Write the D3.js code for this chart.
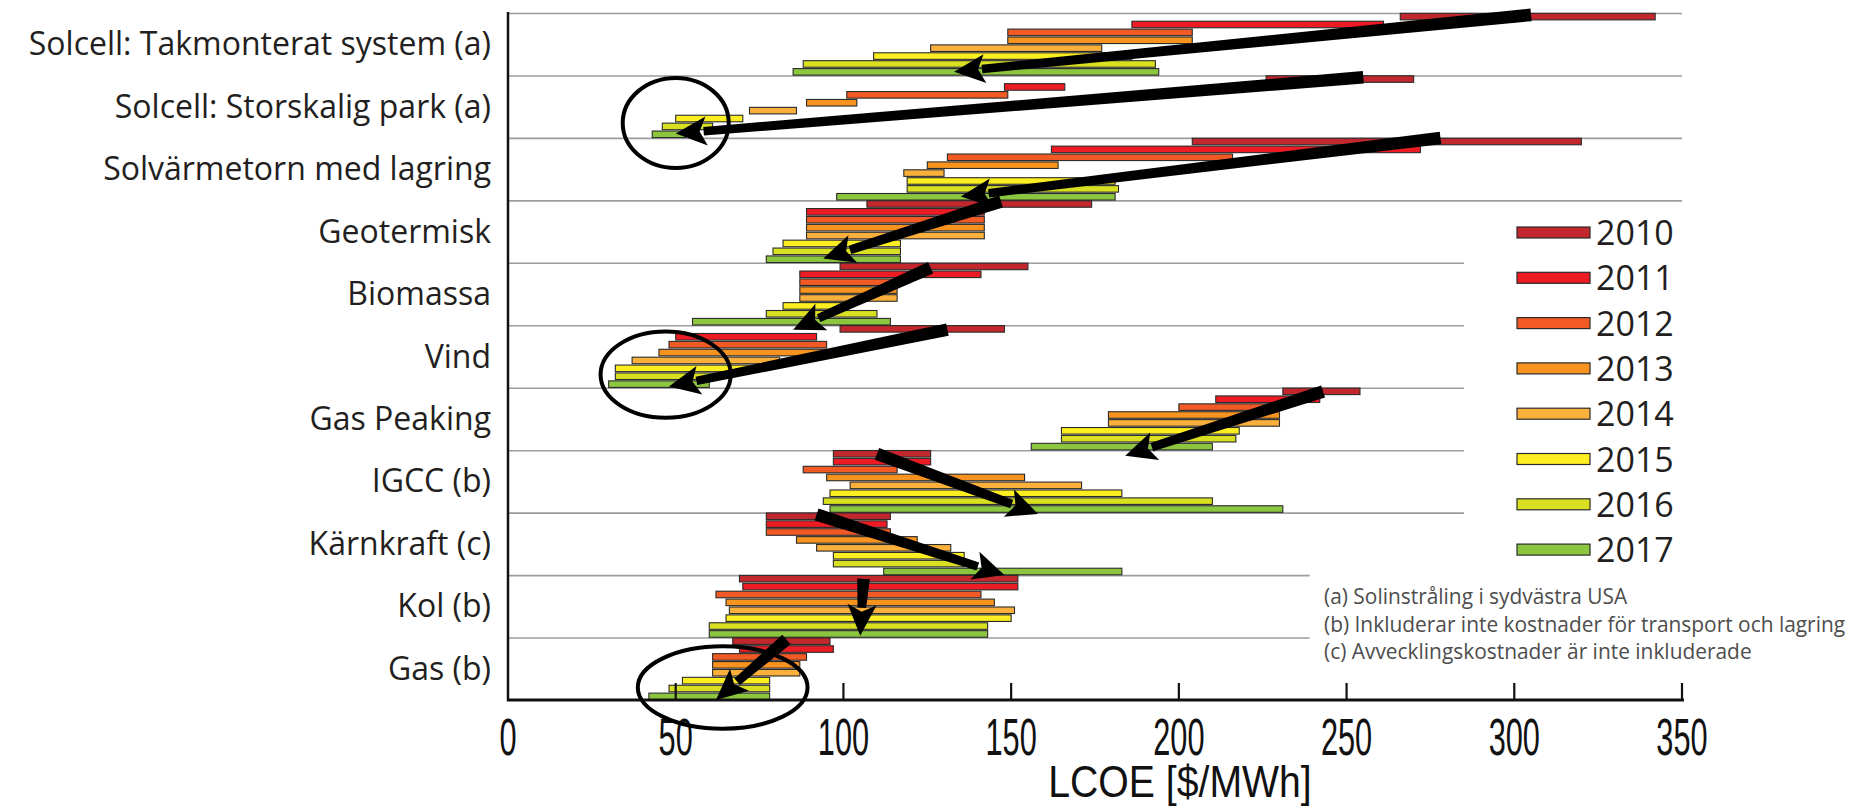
<!DOCTYPE html>
<html>
<head>
<meta charset="utf-8">
<script src="https://cdn.jsdelivr.net/npm/d3@7"></script>
<style>
  html, body { margin: 0; padding: 0; background: #fff; }
  svg { display: block; }
</style>
</head>
<body>
<svg id="chart"></svg>
<script>
// technologies, top to bottom
var categories = [
  "Solcell: Takmonterat system (a)",
  "Solcell: Storskalig park (a)",
  "Solvärmetorn med lagring",
  "Geotermisk",
  "Biomassa",
  "Vind",
  "Gas Peaking",
  "IGCC (b)",
  "Kärnkraft (c)",
  "Kol (b)",
  "Gas (b)"
];

var years = ["2010", "2011", "2012", "2013", "2014", "2015", "2016", "2017"];

var yearColors = ["#c1272d", "#ed1c24", "#f15a24", "#f7931e", "#fbb03b", "#fcee21", "#d9e021", "#8cc63f"];

// LCOE low end per technology, one value per year (2010..2017)
var lowValues = [
  [266, 186, 149, 149, 126, 109, 88, 85],
  [226, 148, 101, 89, 72, 50, 46, 43],
  [204, 162, 131, 125, 118, 119, 119, 98],
  [107, 89, 89, 89, 89, 82, 79, 77],
  [99, 87, 87, 87, 87, 82, 77, 55],
  [99, 50, 48, 45, 37, 32, 32, 30],
  [231, 211, 200, 179, 179, 165, 165, 156],
  [97, 97, 88, 95, 102, 96, 94, 96],
  [77, 77, 77, 86, 92, 97, 97, 112],
  [69, 70, 62, 65, 66, 65, 60, 60],
  [67, 69, 61, 61, 61, 52, 48, 42]
];

// LCOE high end
var highValues = [
  [342, 261, 204, 204, 177, 186, 193, 194],
  [270, 166, 149, 104, 86, 70, 61, 53],
  [320, 272, 216, 164, 130, 181, 182, 181],
  [174, 142, 142, 142, 142, 117, 117, 117],
  [155, 141, 116, 116, 116, 100, 110, 114],
  [148, 92, 95, 95, 81, 75, 62, 60],
  [254, 242, 230, 230, 230, 218, 217, 210],
  [126, 126, 116, 154, 171, 183, 210, 231],
  [114, 113, 114, 122, 132, 136, 136, 183],
  [152, 152, 141, 145, 151, 150, 143, 143],
  [96, 97, 89, 87, 87, 78, 78, 78]
];

var xTicks = [0, 50, 100, 150, 200, 250, 300, 350];

// trend arrows: [LCOE, row position] -> [LCOE, row position]
var trendArrows = [
  [[305, 0.03], [133, 0.94]],
  [[255, 1.03], [50, 1.93]],
  [[278, 2.0], [135, 2.94]],
  [[147, 3.02], [94, 3.93]],
  [[126, 4.08], [85, 5.07]],
  [[131, 5.07], [48, 5.98]],
  [[243, 6.06], [184, 7.09]],
  [[110, 7.06], [158, 8.02]],
  [[92, 8.03], [148, 9.0]],
  [[106, 9.06], [105, 9.97]],
  [[83, 10.03], [62, 11.0]]
];

// highlighted clusters: center LCOE, center row position, radius in LCOE, radius in rows
var highlightRings = [
  [50, 1.76, 15.8, 0.72],
  [47, 5.79, 19.4, 0.69],
  [64, 10.8, 25.3, 0.66]
];

var notes = [
  "(a) Solinstråling i sydvästra USA",
  "(b) Inkluderar inte kostnader för transport och lagring",
  "(c) Avvecklingskostnader är inte inkluderade"
];

var width = 1862, height = 809;
var svg = d3.select("#chart").attr("width", width).attr("height", height);

var x = d3.scaleLinear().domain([0, 350]).range([508, 1682]);
var y = d3.scaleBand().domain(categories).range([13, 700]);
var rowPos = d3.scaleLinear().domain([0, categories.length]).range([13, 700]);
var yr = d3.scaleBand().domain(years).range([0, y.bandwidth()]).paddingInner(0.17).paddingOuter(0.04);

// gridlines (length differs per row, to leave space for legend and notes)
var gridEnds = [350, 350, 350, 350, 285, 285, 285, 285, 285, 239, 239];
svg.append("g").selectAll("line")
  .data(categories)
  .enter().append("line")
  .attr("x1", x(0))
  .attr("x2", function(d, i) { return x(gridEnds[i]); })
  .attr("y1", function(d) { return y(d) + 0.5; })
  .attr("y2", function(d) { return y(d) + 0.5; })
  .attr("stroke", "#9d9d9d")
  .attr("stroke-width", 1.6);

// bars
var rows = svg.append("g").selectAll("g")
  .data(categories)
  .enter().append("g")
  .attr("transform", function(d) { return "translate(0," + y(d) + ")"; });

rows.selectAll("rect")
  .data(function(d, i) {
    return years.map(function(yy, j) {
      return { year: yy, lo: lowValues[i][j], hi: highValues[i][j], color: yearColors[j] };
    });
  })
  .enter().append("rect")
  .attr("x", function(d) { return x(d.lo); })
  .attr("width", function(d) { return x(d.hi) - x(d.lo); })
  .attr("y", function(d) { return yr(d.year); })
  .attr("height", yr.bandwidth())
  .attr("fill", function(d) { return d.color; })
  .attr("stroke", "#2b2b2b")
  .attr("stroke-width", 1.1);

// category labels
svg.append("g").selectAll("text")
  .data(categories)
  .enter().append("text")
  .attr("x", 491)
  .attr("y", function(d) { return y(d) + y.bandwidth() / 2 + 11; })
  .attr("text-anchor", "end")
  .attr("font-family", "'Open Sans', sans-serif")
  .attr("font-size", 32)
  .attr("fill", "#231f20")
  .text(function(d) { return d; });

// axes
svg.append("line")
  .attr("x1", x(0)).attr("x2", x(0))
  .attr("y1", 12).attr("y2", 701)
  .attr("stroke", "#111").attr("stroke-width", 2.5);

var xAxis = svg.append("g").attr("transform", "translate(0,700)");
xAxis.append("line")
  .attr("x1", x(0) - 1).attr("x2", x(350) + 2)
  .attr("stroke", "#111").attr("stroke-width", 3.2);
xAxis.selectAll("line.tick")
  .data(xTicks.slice(1))
  .enter().append("line")
  .attr("class", "tick")
  .attr("x1", function(d) { return x(d); })
  .attr("x2", function(d) { return x(d); })
  .attr("y1", 0).attr("y2", -17)
  .attr("stroke", "#111").attr("stroke-width", 2.2);
xAxis.selectAll("text")
  .data(xTicks)
  .enter().append("text")
  .attr("transform", function(d) { return "translate(" + x(d) + ",55) scale(0.75,1.25)"; })
  .attr("text-anchor", "middle")
  .attr("font-family", "'Liberation Sans', sans-serif")
  .attr("font-size", 41)
  .attr("fill", "#111")
  .text(function(d) { return d; });

svg.append("text")
  .attr("transform", "translate(1180,797) scale(0.98,1.1)")
  .attr("text-anchor", "middle")
  .attr("font-family", "'Liberation Sans', sans-serif")
  .attr("font-size", 40)
  .attr("fill", "#111")
  .text("LCOE [$/MWh]");

// arrows
var arrowG = svg.append("g");
trendArrows.forEach(function(a) {
  var x1 = x(a[0][0]), y1 = rowPos(a[0][1]);
  var x2 = x(a[1][0]), y2 = rowPos(a[1][1]);
  var dx = x2 - x1, dy = y2 - y1;
  var len = Math.sqrt(dx * dx + dy * dy);
  var ux = dx / len, uy = dy / len;
  var px = -uy, py = ux;
  var headLen = 31, headW = 14.5;
  var bx = x2 - ux * headLen, by = y2 - uy * headLen;
  var tail = 6.3, neck = 4.3;
  var shaft = [
    [x1 + px * tail, y1 + py * tail],
    [bx + ux * 3 + px * neck, by + uy * 3 + py * neck],
    [bx + ux * 3 - px * neck, by + uy * 3 - py * neck],
    [x1 - px * tail, y1 - py * tail]
  ];
  arrowG.append("polygon")
    .attr("points", shaft.map(function(p) { return p.join(","); }).join(" "))
    .attr("fill", "#000");
  var head = [
    [x2, y2],
    [bx + px * headW, by + py * headW],
    [bx + ux * 7, by + uy * 7],
    [bx - px * headW, by - py * headW]
  ];
  arrowG.append("polygon")
    .attr("points", head.map(function(p) { return p.join(","); }).join(" "))
    .attr("fill", "#000");
});

// rings round the cheapest clusters
svg.append("g").selectAll("ellipse")
  .data(highlightRings)
  .enter().append("ellipse")
  .attr("cx", function(d) { return x(d[0]); })
  .attr("cy", function(d) { return rowPos(d[1]); })
  .attr("rx", function(d) { return x(d[2]) - x(0); })
  .attr("ry", function(d) { return rowPos(d[3]) - rowPos(0); })
  .attr("fill", "none")
  .attr("stroke", "#000")
  .attr("stroke-width", 4);

// legend
var legend = svg.append("g").attr("transform", "translate(1517,227)");
var lg = legend.selectAll("g")
  .data(years)
  .enter().append("g")
  .attr("transform", function(d, i) { return "translate(0," + (i * 45.3) + ")"; });
lg.append("rect")
  .attr("width", 73).attr("height", 11)
  .attr("fill", function(d, i) { return yearColors[i]; })
  .attr("stroke", "#2b2b2b").attr("stroke-width", 1.2);
lg.append("text")
  .attr("x", 79).attr("y", 18)
  .attr("font-family", "'Open Sans', sans-serif")
  .attr("font-size", 34)
  .attr("fill", "#231f20")
  .text(function(d) { return d; });

// footnotes
svg.append("g").selectAll("text")
  .data(notes)
  .enter().append("text")
  .attr("x", 1324)
  .attr("y", function(d, i) { return 604 + i * 27.5; })
  .attr("font-family", "'Open Sans', sans-serif")
  .attr("font-size", 20.9)
  .attr("fill", "#4d4d4d")
  .text(function(d) { return d; });
</script>
</body>
</html>
